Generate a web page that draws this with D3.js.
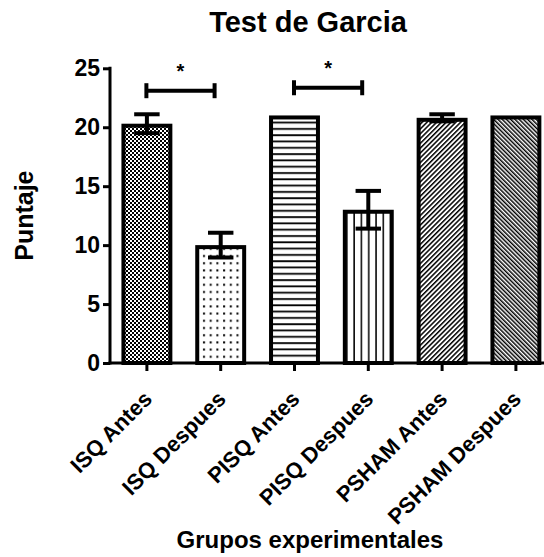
<!DOCTYPE html>
<html>
<head>
<meta charset="utf-8">
<script src="https://cdn.jsdelivr.net/npm/d3@7"></script>
<style>
  html, body { margin: 0; padding: 0; background: #fff; }
  svg { display: block; font-family: "Liberation Sans", Arial, Helvetica, sans-serif; }
</style>
</head>
<body>
<svg id="chart" width="544" height="557"></svg>
<script>
// Test de Garcia: mean score per experimental group, with SEM error bars
const groups = ["ISQ Antes", "ISQ Despues", "PISQ Antes", "PISQ Despues", "PSHAM Antes", "PSHAM Despues"];
const means = [20.3, 10.0, 21.0, 13.0, 20.8, 21.0];
const sem = [0.8, 1.05, 0, 1.6, 0.3, 0];
const fills = ["checker", "dots", "hlines", "vlines", "fdiag", "bdiag"];
const yTicks = [0, 5, 10, 15, 20, 25];

// significance brackets: groups compared, level on the y scale, label
const bracketFrom = [0, 2];
const bracketTo = [1, 3];
const bracketLevel = [23.1, 23.35];
const bracketLabel = ["*", "*"];

const svg = d3.select("#chart");
const x0 = 110, x1 = 552.8, yTop = 68.3, yBase = 363;

const x = d3.scaleBand().domain(groups).range([x0, x1])
  .paddingInner(0.31).paddingOuter(0.155);
const y = d3.scaleLinear().domain([0, 25]).range([yBase, yTop]);

// ---- hatch patterns ----
const defs = svg.append("defs");
// checkerboard
const pc = defs.append("pattern").attr("id", "checker").attr("patternUnits", "userSpaceOnUse")
  .attr("width", 4).attr("height", 4);
pc.append("rect").attr("width", 4).attr("height", 4).attr("fill", "#fff");
pc.append("rect").attr("width", 2).attr("height", 2).attr("fill", "#000");
pc.append("rect").attr("x", 2).attr("y", 2).attr("width", 2).attr("height", 2).attr("fill", "#000");
// dots
const pd = defs.append("pattern").attr("id", "dots").attr("patternUnits", "userSpaceOnUse")
  .attr("width", 6.7).attr("height", 7.2);
pd.append("rect").attr("width", 6.7).attr("height", 7.2).attr("fill", "#fff");
pd.append("rect").attr("x", 2).attr("y", 3).attr("width", 2).attr("height", 2).attr("fill", "#000");
// horizontal lines
const ph = defs.append("pattern").attr("id", "hlines").attr("patternUnits", "userSpaceOnUse")
  .attr("width", 10).attr("height", 6.3);
ph.append("rect").attr("width", 10).attr("height", 6.3).attr("fill", "#fff");
ph.append("rect").attr("y", 2).attr("width", 10).attr("height", 1.8).attr("fill", "#000");
// vertical lines
const pv = defs.append("pattern").attr("id", "vlines").attr("patternUnits", "userSpaceOnUse")
  .attr("width", 7.3).attr("height", 10);
pv.append("rect").attr("width", 7.3).attr("height", 10).attr("fill", "#fff");
pv.append("rect").attr("x", 3).attr("width", 1.5).attr("height", 10).attr("fill", "#000");
// forward diagonal
const pf = defs.append("pattern").attr("id", "fdiag").attr("patternUnits", "userSpaceOnUse")
  .attr("width", 3.4).attr("height", 10).attr("patternTransform", "rotate(45)");
pf.append("rect").attr("width", 3.4).attr("height", 10).attr("fill", "#fff");
pf.append("rect").attr("width", 1.5).attr("height", 10).attr("fill", "#000");
// backward diagonal
const pb = defs.append("pattern").attr("id", "bdiag").attr("patternUnits", "userSpaceOnUse")
  .attr("width", 3.0).attr("height", 10).attr("patternTransform", "rotate(-45)");
pb.append("rect").attr("width", 3.0).attr("height", 10).attr("fill", "#fff");
pb.append("rect").attr("width", 1.5).attr("height", 10).attr("fill", "#000");

// ---- bars ----
const sw = 4;
const bw = x.bandwidth();
svg.append("g").selectAll("rect").data(groups).join("rect")
  .attr("x", d => x(d) + sw / 2)
  .attr("y", (d, i) => y(means[i]) + sw / 2)
  .attr("width", bw - sw)
  .attr("height", (d, i) => y(0) - y(means[i]) - sw / 2)
  .attr("fill", (d, i) => `url(#${fills[i]})`)
  .attr("stroke", "#000").attr("stroke-width", sw);

// ---- error bars ----
const capW = bw * 0.5;
const eb = svg.append("g").attr("stroke", "#000").attr("stroke-width", 4).attr("fill", "none");
groups.forEach((g, i) => {
  if (!sem[i]) return;
  const cx = x(g) + bw / 2;
  const hi = y(means[i] + sem[i]), lo = y(means[i] - sem[i]);
  eb.append("line").attr("x1", cx).attr("x2", cx).attr("y1", hi).attr("y2", lo);
  eb.append("line").attr("x1", cx - capW / 2).attr("x2", cx + capW / 2).attr("y1", hi).attr("y2", hi);
  eb.append("line").attr("x1", cx - capW / 2).attr("x2", cx + capW / 2).attr("y1", lo).attr("y2", lo);
});

// ---- axes ----
const yAxis = d3.axisLeft(y).tickValues(yTicks).tickSize(7).tickPadding(3).tickFormat(d3.format("d"));
const gy = svg.append("g").attr("transform", `translate(${x0},0)`).call(yAxis);
gy.select(".domain").attr("stroke-width", 3).attr("d", `M0,${yBase + 1.5}V${yTop - 1.5}`);
gy.selectAll(".tick line").attr("stroke-width", 3);
gy.selectAll(".tick text").attr("font-size", 23).attr("font-weight", "bold").attr("fill", "#000")
  .attr("font-family", "Liberation Sans, Arial, sans-serif");

const xAxis = d3.axisBottom(x).tickSize(8).tickSizeOuter(0).tickFormat("");
const gx = svg.append("g").attr("transform", `translate(0,${yBase})`).call(xAxis);
gx.select(".domain").attr("stroke-width", 3).attr("d", `M${x0 - 1.5},0H544`);
gx.selectAll(".tick line").attr("stroke-width", 3);

// rotated category labels
svg.append("g").selectAll("text").data(groups).join("text")
  .attr("transform", d => `translate(${x(d) + bw / 2 + 1},${yBase + 32}) rotate(-45)`)
  .attr("text-anchor", "end")
  .attr("dy", "0.35em")
  .attr("font-size", 22).attr("font-weight", "bold")
  .text(d => d);

// ---- significance brackets ----
const bg = svg.append("g").attr("stroke", "#000").attr("stroke-width", 4);
bracketFrom.forEach((f, k) => {
  const xa = x(groups[f]) + bw * 0.49;
  const xb = x(groups[bracketTo[k]]) + bw * 0.38;
  const yl = y(bracketLevel[k]);
  bg.append("line").attr("x1", xa).attr("x2", xb).attr("y1", yl).attr("y2", yl);
  bg.append("line").attr("x1", xa).attr("x2", xa).attr("y1", yl - 7.5).attr("y2", yl + 7.5);
  bg.append("line").attr("x1", xb).attr("x2", xb).attr("y1", yl - 7.5).attr("y2", yl + 7.5);
  svg.append("text").attr("x", (xa + xb) / 2).attr("y", yl - 13)
    .attr("text-anchor", "middle").attr("font-size", 20).attr("font-weight", "bold")
    .text(bracketLabel[k]);
});

// ---- titles ----
svg.append("text").attr("x", 308).attr("y", 32).attr("text-anchor", "middle")
  .attr("font-size", 29).attr("font-weight", "bold").text("Test de Garcia");
svg.append("text").attr("x", 310).attr("y", 548).attr("text-anchor", "middle")
  .attr("font-size", 24).attr("font-weight", "bold").text("Grupos experimentales");
svg.append("text").attr("transform", `translate(33,${(yBase + yTop) / 2}) rotate(-90)`)
  .attr("text-anchor", "middle").attr("font-size", 25).attr("font-weight", "bold").text("Puntaje");
</script>
</body>
</html>
